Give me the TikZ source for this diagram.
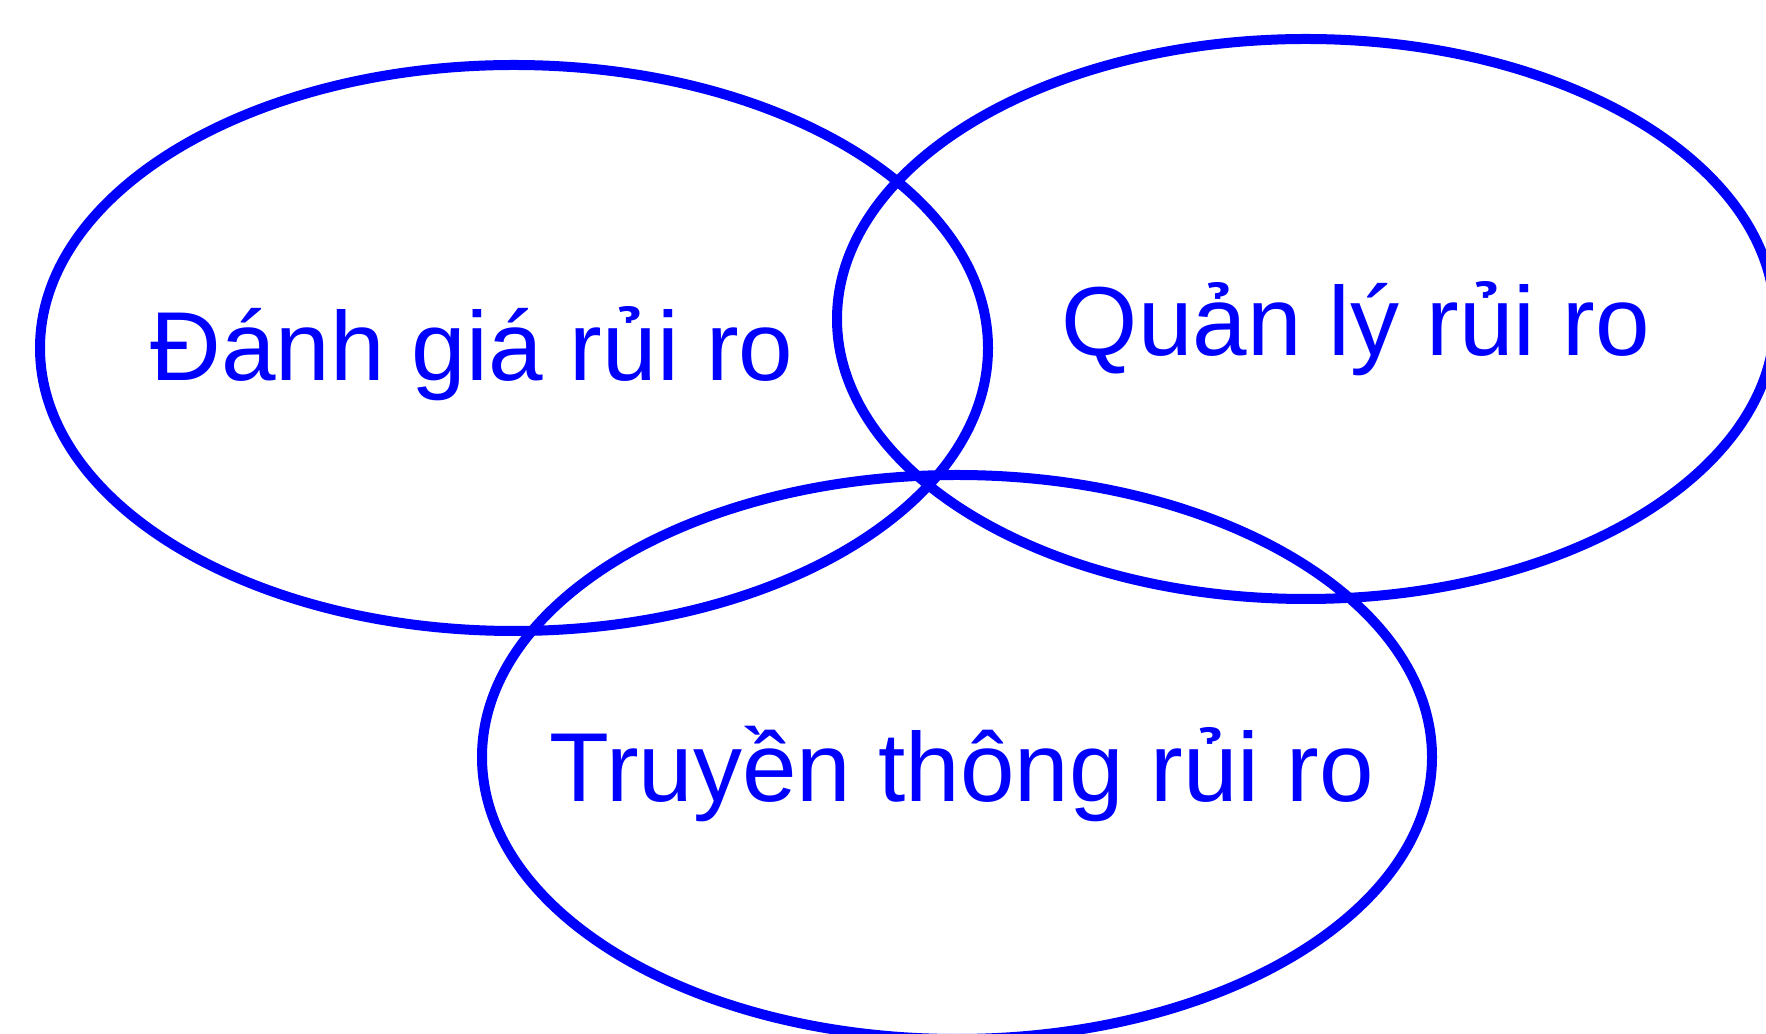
\documentclass[tikz,border=0pt]{standalone}
\usepackage{fontspec}
\setmainfont{Liberation Sans}
\usetikzlibrary{shapes.geometric}
\definecolor{vblue}{RGB}{0,0,255}
\tikzset{
  ring/.style={ellipse, draw=vblue, line width=10pt, inner sep=0pt},
  lbl/.style={text=vblue, anchor=base, inner sep=0pt, font=\fontsize{98}{118}\selectfont}
}
\begin{document}
\begin{tikzpicture}[x=1pt,y=1pt]
\useasboundingbox (0,0) rectangle (1766,1033);
\clip (0,0) rectangle (1766,1033);
\node[ring, minimum width=948pt, minimum height=566pt] (danhgia) at (514,685) {};
\node[ring, minimum width=938pt, minimum height=560pt] (quanly) at (1306,714) {};
\node[ring, minimum width=950pt, minimum height=564pt] (truyenthong) at (957,276) {};
\node[lbl] (t1) at (472,652) {Đánh giá rủi ro};
\node[lbl] (t2) at (1356,677) {Quản lý rủi ro};
\node[lbl] (t3) at (962,231) {Truyền thông rủi ro};
\end{tikzpicture}
\end{document}
